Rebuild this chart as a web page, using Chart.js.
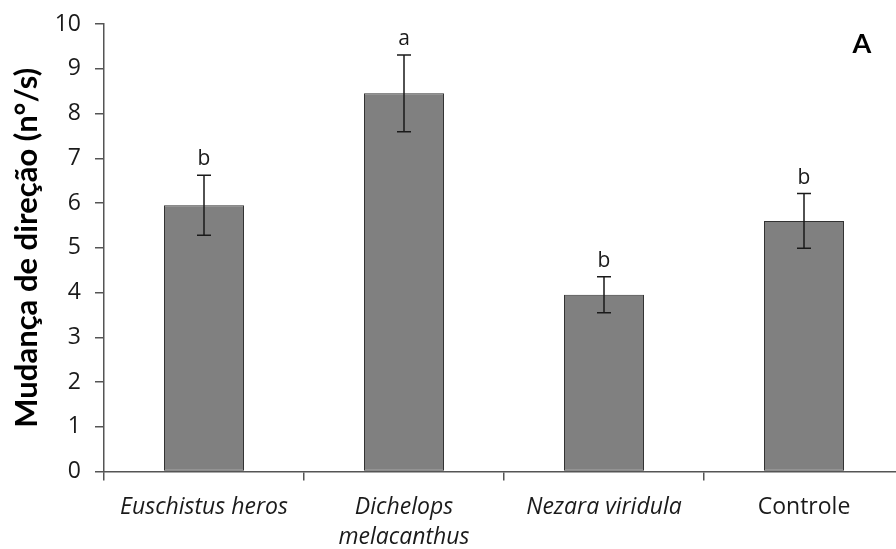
<!DOCTYPE html>
<html>
<head>
<meta charset="utf-8">
<script src="https://cdn.jsdelivr.net/npm/chart.js@4.4.1/dist/chart.umd.min.js"></script>
<style>
html,body{margin:0;padding:0;background:#fff;overflow:hidden;}
#wrap{width:904px;height:549px;position:relative;}
</style>
</head>
<body>
<div id="wrap"><canvas id="c" width="904" height="549"></canvas></div>
<script>
const categories = [["Euschistus heros"], ["Dichelops", "melacanthus"], ["Nezara viridula"], ["Controle"]];
const italicFlags = [true, true, true, false];
const means = [5.95, 8.45, 3.95, 5.6];
const errors = [0.67, 0.86, 0.40, 0.61];
const letters = ["b", "a", "b", "b"];
const yTicks = [0, 1, 2, 3, 4, 5, 6, 7, 8, 9, 10];
const yTitle = "Mudança de direção (n°/s)";
const panelLabel = "A";

const FONT = "'Open Sans', Lato, sans-serif";
const TITLE_FONT = "Lato, 'Open Sans', sans-serif";

const errorBarPlugin = {
  id: 'errorBars',
  afterDatasetsDraw(chart) {
    const ctx = chart.ctx;
    const meta = chart.getDatasetMeta(0);
    const y = chart.scales.y;
    ctx.save();
    ctx.strokeStyle = '#1a1a1a';
    ctx.lineWidth = 1.5;
    meta.data.forEach((bar, i) => {
      const x = bar.x;
      const top = y.getPixelForValue(means[i] + errors[i]);
      const bot = y.getPixelForValue(means[i] - errors[i]);
      const cap = 7;
      ctx.beginPath();
      ctx.moveTo(x, top); ctx.lineTo(x, bot);
      ctx.moveTo(x - cap, top); ctx.lineTo(x + cap, top);
      ctx.moveTo(x - cap, bot); ctx.lineTo(x + cap, bot);
      ctx.stroke();
      ctx.fillStyle = '#1a1a1a';
      ctx.font = "21px " + FONT;
      ctx.textAlign = 'center';
      ctx.textBaseline = 'alphabetic';
      ctx.fillText(letters[i], x, top - 10);
    });
    ctx.font = "bold 27px " + TITLE_FONT;
    ctx.textAlign = 'center';
    ctx.textBaseline = 'middle';
    ctx.fillStyle = '#000';
    ctx.fillText(panelLabel, 862, 44);
    ctx.restore();
  }
};

new Chart(document.getElementById('c'), {
  type: 'bar',
  data: {
    labels: categories,
    datasets: [{
      data: means,
      backgroundColor: '#808080',
      borderColor: '#333333',
      borderWidth: 1,
      borderSkipped: false,
      categoryPercentage: 0.8,
      barPercentage: 0.5
    }]
  },
  options: {
    responsive: false,
    animation: false,
    devicePixelRatio: 1,
    layout: { padding: { top: 24, right: 0, left: 0, bottom: 0 } },
    plugins: { legend: { display: false }, tooltip: { enabled: false } },
    scales: {
      x: {
        grid: { display: true, drawOnChartArea: false, drawTicks: true, tickLength: 9, color: '#555', lineWidth: 1.5, offset: true },
        border: { display: true, color: '#555', width: 1.5 },
        ticks: {
          color: '#1a1a1a',
          padding: 12,
          maxRotation: 0,
          autoSkip: false,
          font: (c) => ({ family: FONT, size: 23, style: italicFlags[c.index] ? 'italic' : 'normal', lineHeight: 1.3 })
        },
        afterFit(s) { s.height = 77.5; }
      },
      y: {
        min: 0, max: 10,
        afterBuildTicks(s) { s.ticks = yTicks.map(v => ({ value: v })); },
        grid: { display: true, drawOnChartArea: false, drawTicks: true, tickLength: 9, color: '#555', lineWidth: 1.5 },
        border: { display: true, color: '#555', width: 1.5 },
        ticks: { color: '#1a1a1a', padding: 14, font: { family: FONT, size: 23 } },
        title: { display: true, text: yTitle, color: '#000', font: { family: TITLE_FONT, size: 31, weight: 'bold' }, padding: { top: 8, bottom: 0 } },
        afterFit(s) { s.width = 104; s.paddingTop = 0; }
      }
    }
  },
  plugins: [errorBarPlugin]
});
</script>
</body>
</html>
